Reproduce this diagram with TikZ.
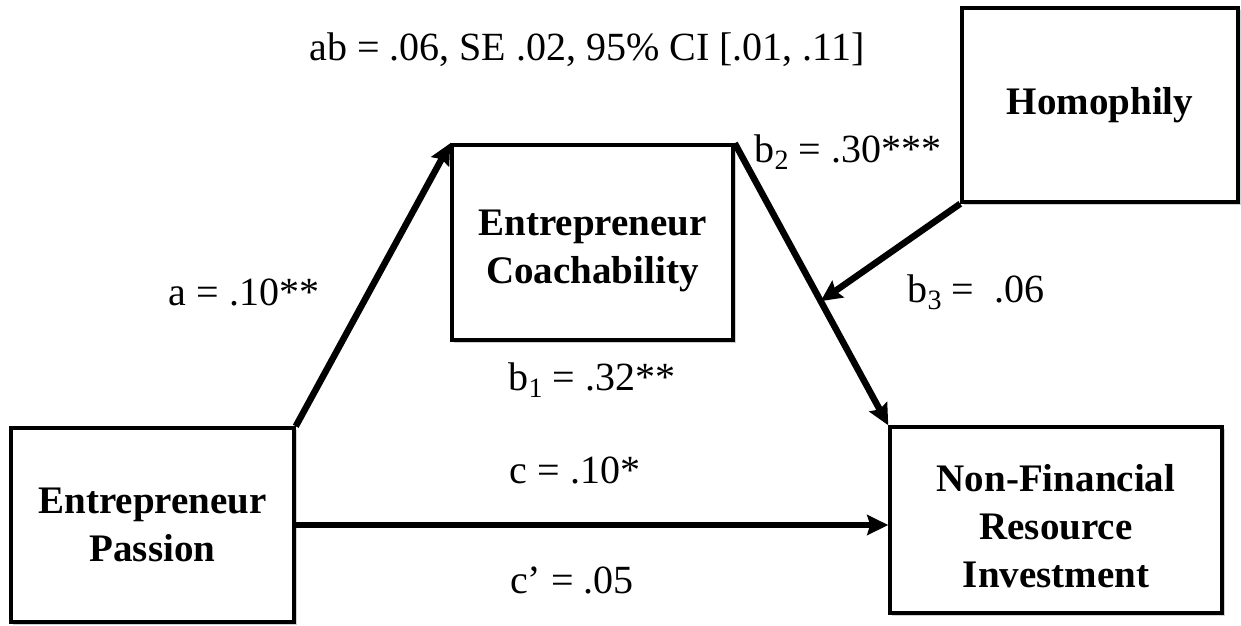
\documentclass[tikz,border=0pt]{standalone}
\usepackage{fontspec}
\setmainfont{Liberation Serif}
\usetikzlibrary{arrows.meta,calc}
\newcommand{\sbs}[1]{\raisebox{-0.36ex}{\fontsize{28}{28}\selectfont #1}}
\begin{document}
\begin{tikzpicture}[x=1pt,y=-1pt,
  box/.style={draw=black,line width=3.5pt,fill=white,rectangle,align=center,
    font=\fontsize{39}{48}\selectfont\bfseries},
  lbl/.style={font=\fontsize{40}{46}\selectfont,inner sep=0pt},
  arr/.style={line width=6.5pt,-{Stealth[length=21pt,width=20pt,inset=3pt]}}
]
\useasboundingbox[fill=white] (0,0) rectangle (1241,625);
% shadows
\fill[black!18] (13,430) rectangle (297,625);
\fill[black!18] (454,147) rectangle (736,343);
\fill[black!18] (964,10) rectangle (1241,205);
\fill[black!18] (892,429) rectangle (1225,616);
\node[box,minimum width=283pt,minimum height=194pt] (pass) at (152.5,525) {Entrepreneur\\Passion};
\node[box,minimum width=281pt,minimum height=195pt] (coach) at (592.5,242.5) {\rule{0pt}{42pt}Entrepreneur\\Coachability};
\node[box,minimum width=276pt,minimum height=194pt] (homo) at (1100,105) {Homophily};
\node[box,minimum width=332pt,minimum height=186pt] (nfri) at (1056,520) {\rule{0pt}{40pt}Non-Financial\\Resource\\Investment};
\coordinate (mod) at ($(coach.north east)!0.56!(nfri.north west)$);
\draw[arr] (pass.north east) -- (coach.north west);
\draw[arr] (coach.north east) -- (nfri.north west);
\draw[arr] (homo.south west) -- (mod);
\draw[arr] (pass.east) -- (pass.east -| nfri.west);
\node[lbl] (ab) at (587,50) {ab = .06, SE .02, 95\% CI [.01, .11]};
\node[lbl] (la) at (244,292) {a = .10**};
\node[lbl] (lb2) at (848,152) {b\sbs{2} = .30***};
\node[lbl] (lb3) at (976,292) {b\sbs{3} =\ \ .06};
\node[lbl] (lb1) at (592,380) {b\sbs{1} = .32**};
\node[lbl] (lc) at (575,470) {c = .10*};
\node[lbl] (lcp) at (572,580) {c’ = .05};
\end{tikzpicture}
\end{document}
